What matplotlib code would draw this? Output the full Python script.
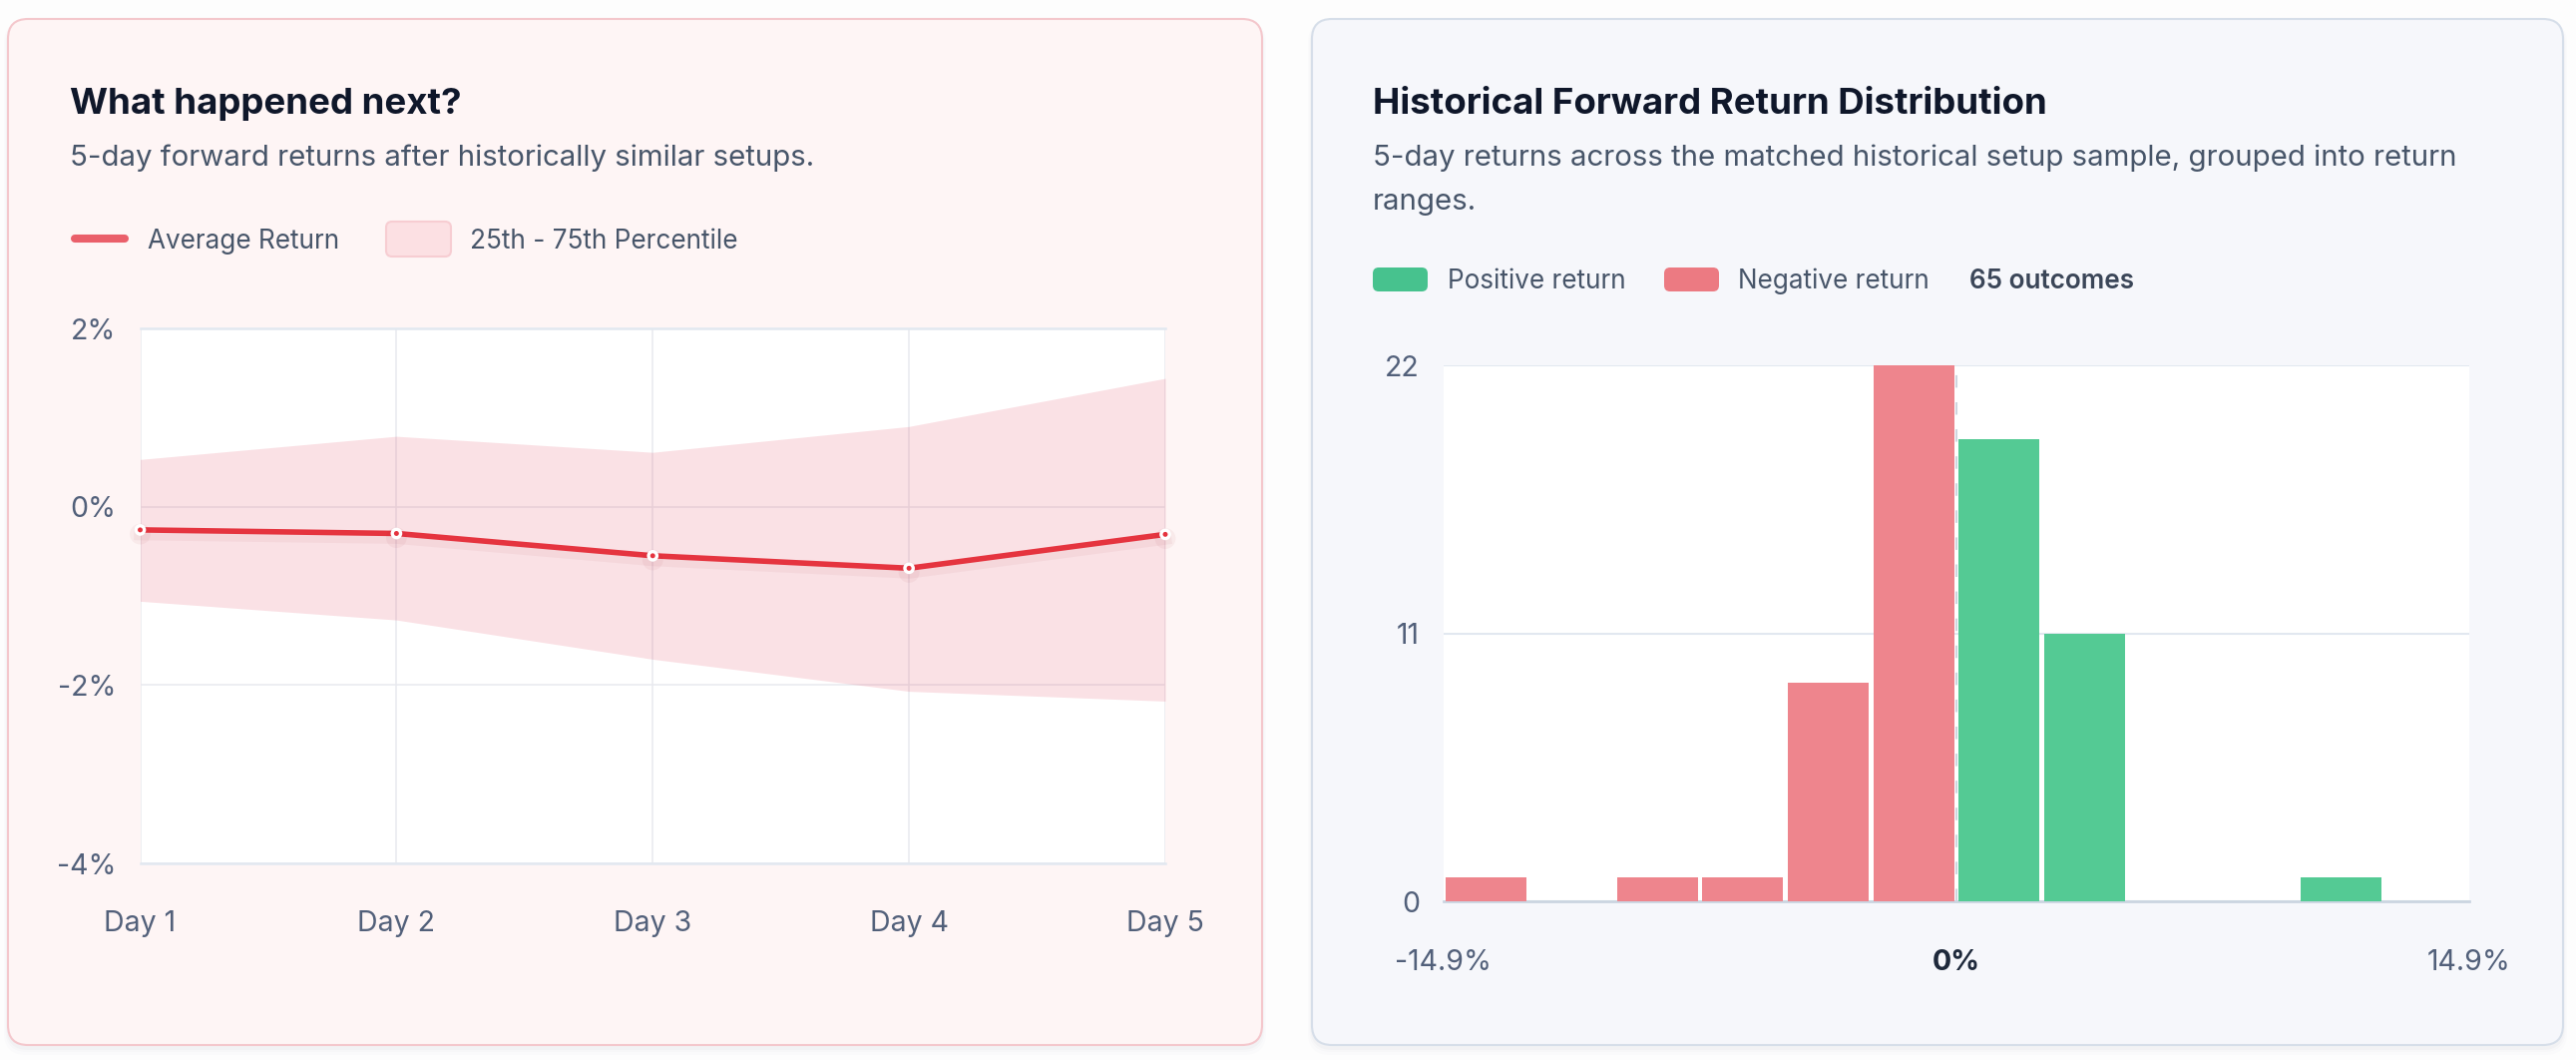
import numpy as np
import matplotlib
matplotlib.use("Agg")
import matplotlib.pyplot as plt
from matplotlib.patches import FancyBboxPatch
import matplotlib.patheffects as pe

# ---------------- data ----------------
days = ["Day 1", "Day 2", "Day 3", "Day 4", "Day 5"]
avg_return = [-0.26, -0.30, -0.55, -0.69, -0.31]
p25 = [-1.06, -1.27, -1.71, -2.07, -2.18]
p75 = [0.53, 0.79, 0.61, 0.90, 1.44]
line_yticks = [2, 0, -2, -4]

hist_counts = [1, 0, 1, 1, 9, 22, 19, 11, 0, 0, 1, 0]
hist_range = 14.9
hist_yticks = [0, 11, 22]
total_outcomes = 65

# ---------------- style ----------------
plt.rcParams["font.family"] = ["Inter", "DejaVu Sans"]
TITLE_C = "#0f172a"
SUB_C = "#475569"
TICK_C = "#52607a"
RED_LINE = "#e5343f"
RED_BAR = "#ee858d"
GREEN_BAR = "#54ca94"
SUB_FS = 21.2
LEG_FS = 18.8
TICK_FS = 20.5

W, H = 2582, 1062
fig = plt.figure(figsize=(W / 100, H / 100), dpi=100)
fig.patch.set_facecolor("#fdfdfd")


def ax_rect(l, t, r, b):
    return [l / W, 1 - b / H, (r - l) / W, (b - t) / H]


# overlay axes in pixel coordinates
bg = fig.add_axes([0, 0, 1, 1], zorder=0)
bg.set_xlim(0, W)
bg.set_ylim(H, 0)
bg.axis("off")

# cards with faint shadows
for (x0, w, fc, ec) in [(8, 1257, "#fef5f5", "#f4c7cc"), (1315, 1254, "#f6f7fb", "#d6dee9")]:
    for k, a in [(8, 0.015), (5, 0.02), (3, 0.03)]:
        bg.add_patch(FancyBboxPatch((x0 - k / 2, 19 + 2), w + k, 1028 + k,
                                    boxstyle="round,pad=0,rounding_size=22",
                                    fc="#64748b", ec="none", alpha=a))
    bg.add_patch(FancyBboxPatch((x0, 19), w, 1028,
                                boxstyle="round,pad=0,rounding_size=20",
                                fc=fc, ec=ec, lw=1.5))

# ---- left card texts ----
bg.text(70, 114, "What happened next?", fontsize=26.4, fontweight="bold",
        color=TITLE_C, va="baseline", ha="left")
bg.text(70, 166, "5-day forward returns after historically similar setups.",
        fontsize=SUB_FS, color=SUB_C, va="baseline", ha="left")
bg.plot([75, 125], [239, 239], color="#ea5f6a", lw=5.8, solid_capstyle="round")
bg.text(148, 249.3, "Average Return", fontsize=LEG_FS, color=SUB_C, va="baseline")
bg.add_patch(FancyBboxPatch((387, 222), 65, 35, boxstyle="round,pad=0,rounding_size=6",
                            fc="#fce0e3", ec="#f7cdd2", lw=1.5))
bg.text(471, 249.3, "25th - 75th Percentile", fontsize=LEG_FS, color=SUB_C, va="baseline")

# ---- right card texts ----
bg.text(1376, 114, "Historical Forward Return Distribution", fontsize=26.4,
        fontweight="bold", color=TITLE_C, va="baseline")
bg.text(1376, 166, "5-day returns across the matched historical setup sample, grouped into return",
        fontsize=SUB_FS, color=SUB_C, va="baseline")
bg.text(1376, 210, "ranges.", fontsize=SUB_FS, color=SUB_C, va="baseline")
bg.add_patch(FancyBboxPatch((1376, 268), 55, 24, boxstyle="round,pad=0,rounding_size=6",
                            fc="#47c28e", ec="none"))
bg.text(1451, 289, "Positive return", fontsize=LEG_FS, color=SUB_C, va="baseline")
bg.add_patch(FancyBboxPatch((1668, 268), 55, 24, boxstyle="round,pad=0,rounding_size=6",
                            fc="#ec7a82", ec="none"))
bg.text(1742, 289, "Negative return", fontsize=LEG_FS, color=SUB_C, va="baseline")
bg.text(1974.5, 289, f"{total_outcomes} outcomes", fontsize=LEG_FS, fontweight="semibold",
        color="#3b4658", va="baseline")

# ---------------- line chart ----------------
ax1 = fig.add_axes(ax_rect(140.5, 329, 1168, 865), zorder=1)
ax1.set_facecolor("white")
x = np.arange(len(days))
ax1.set_xlim(0, len(days) - 1)
ax1.set_ylim(min(line_yticks), max(line_yticks))
ax1.set_yticks(line_yticks, [f"{v}%" for v in line_yticks])
ax1.set_xticks(x, days)
ax1.grid(True, color="#e8eaef", lw=1.1, zorder=0)
ax1.set_axisbelow(True)
for s in ["left", "right"]:
    ax1.spines[s].set_visible(False)
for s in ["top", "bottom"]:
    ax1.spines[s].set_color("#e2e8f0")
    ax1.spines[s].set_linewidth(1.8)
ax1.tick_params(length=0, labelsize=TICK_FS, labelcolor=TICK_C)
ax1.tick_params(axis="x", pad=43.7)
ax1.tick_params(axis="y", pad=17.6)
for lbl in ax1.get_xticklabels():
    lbl.set_va("center")

ax1.fill_between(x, p25, p75, color="#e4405a", alpha=0.155, lw=0, zorder=2)
ax1.plot(x, avg_return, color=RED_LINE, lw=4.0, marker="o", ms=6.0, mfc=RED_LINE,
         mec="white", mew=2.4, zorder=4, clip_on=False,
         path_effects=[pe.SimpleLineShadow(offset=(0, -3), shadow_color="#a02030",
                                           alpha=0.05, linewidth=9),
                       pe.Normal()])

# ---------------- histogram ----------------
ax2 = fig.add_axes(ax_rect(1447, 366.4, 2475, 903.2), zorder=1)
ax2.set_facecolor("white")
edges = np.linspace(-hist_range, hist_range, len(hist_counts) + 1)
centers = (edges[:-1] + edges[1:]) / 2
bw = edges[1] - edges[0]
colors = [RED_BAR if c < 0 else GREEN_BAR for c in centers]
ax2.bar(centers, hist_counts, width=bw * 0.945, color=colors, zorder=3, lw=0)
ax2.set_xlim(-hist_range, hist_range)
ax2.set_ylim(0, max(hist_yticks))
ax2.set_yticks(hist_yticks, [str(v) for v in hist_yticks])
ax2.set_xticks([-hist_range, 0, hist_range], [f"-{hist_range}%", "0%", f"{hist_range}%"])
ax2.grid(True, axis="y", color="#e2e8f0", lw=1.5, zorder=0)
ax2.set_axisbelow(True)
for s in ["left", "right", "top"]:
    ax2.spines[s].set_visible(False)
ax2.spines["bottom"].set_color("#cbd5e1")
ax2.spines["bottom"].set_linewidth(2)
ax2.axvline(0, color="#cfd6e0", lw=1.5, ls=(0, (6, 7)), zorder=2)
ax2.tick_params(length=0, labelsize=TICK_FS, labelcolor=TICK_C)
ax2.tick_params(axis="x", pad=44)
ax2.tick_params(axis="y", pad=17.3)
for lbl in ax2.get_xticklabels():
    lbl.set_va("center")
    if lbl.get_text() == "0%":
        lbl.set_fontweight("bold")
        lbl.set_color("#1e293b")

fig.savefig("out.png", dpi=100, facecolor=fig.get_facecolor())
